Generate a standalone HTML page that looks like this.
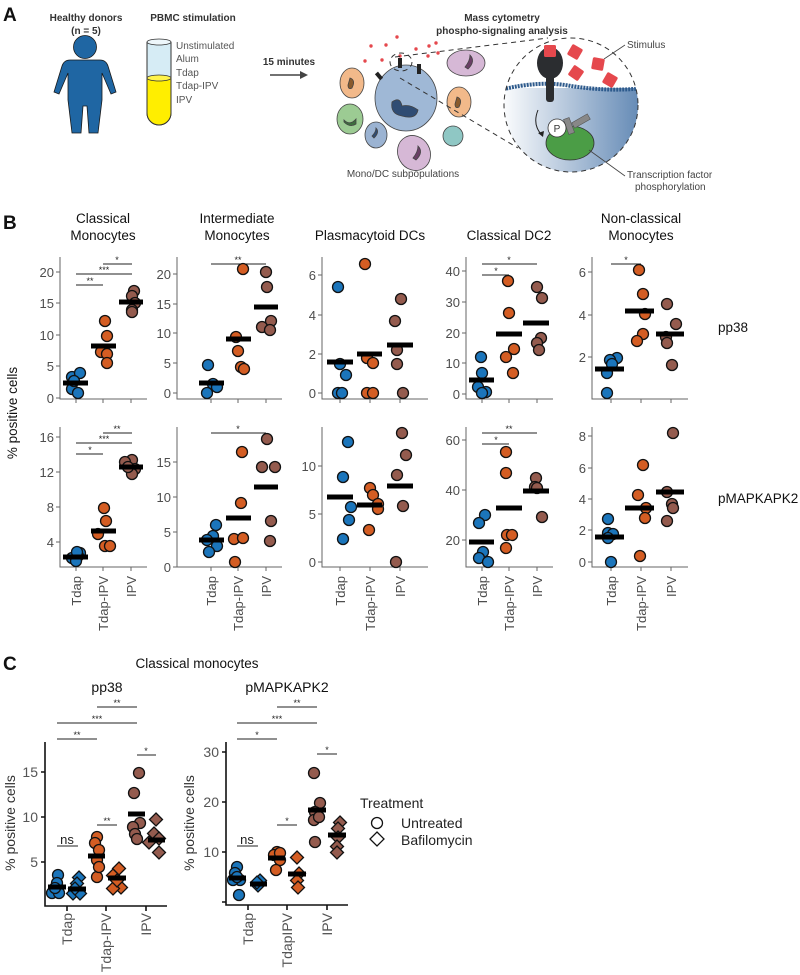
<!DOCTYPE html>
<html><head><meta charset="utf-8"><style>
html,body{margin:0;padding:0;background:#fff}
svg{display:block}
text{font-family:"Liberation Sans",sans-serif}
.t{font-size:13px;fill:#4d4d4d}
.h{font-size:13.5px;fill:#111}
.b{fill:#1b75bb;stroke:#111;stroke-width:1.3}
.o{fill:#d45d23;stroke:#111;stroke-width:1.3}
.r{fill:#945b4e;stroke:#111;stroke-width:1.3}
.ax{stroke:#666;stroke-width:1;fill:none}
.axc{stroke:#111;stroke-width:1.6;fill:none}
.sg{stroke:#222;stroke-width:1}
.st{font-size:9px;fill:#222}
</style></head><body>
<svg width="800" height="975" viewBox="0 0 800 975" xmlns="http://www.w3.org/2000/svg">
<defs>
<linearGradient id="gr" x1="0" x2="1" y1="0" y2="0"><stop offset="0" stop-color="#fff"/><stop offset="1" stop-color="#5f86b3"/></linearGradient>
<clipPath id="cc"><circle cx="571" cy="105" r="67"/></clipPath>
</defs>
<!-- Panel A -->
<text x="3" y="21" style="font-size:19px;font-weight:bold" fill="#111">A</text>
<text x="86" y="21" text-anchor="middle" style="font-size:10px;font-weight:bold" fill="#333">Healthy donors</text>
<text x="86" y="34" text-anchor="middle" style="font-size:10px;font-weight:bold" fill="#333">(n = 5)</text>
<text x="193" y="21" text-anchor="middle" style="font-size:10px;font-weight:bold" fill="#333">PBMC stimulation</text>
<g fill="#1f66a3" stroke="#1a1a1a" stroke-width="0.8">
<circle cx="85" cy="47" r="11.5"/>
<path d="M70 60 L100 60 Q106 60 108 66 L116 92 L111 94 L102 73 L102 100 L98 133 L89 133 L87 106 L83 106 L81 133 L72 133 L68 100 L68 73 L59 94 L54 92 L62 66 Q64 60 70 60 Z"/>
</g>
<path d="M147 42 L147 113 A12 12 0 0 0 171 113 L171 42" fill="#d6ecf5" stroke="#333" stroke-width="1"/>
<path d="M147 78 L147 113 A12 12 0 0 0 171 113 L171 78 Z" fill="#ffee00" stroke="#333" stroke-width="1"/>
<ellipse cx="159" cy="78" rx="12" ry="3" fill="#fff34a" stroke="#333" stroke-width="0.8"/>
<ellipse cx="159" cy="42" rx="12" ry="3" fill="#eef7fb" stroke="#333" stroke-width="0.8"/>
<g style="font-size:10px" fill="#555">
<text x="176" y="49">Unstimulated</text><text x="176" y="62">Alum</text><text x="176" y="76">Tdap</text><text x="176" y="89">Tdap-IPV</text><text x="176" y="103">IPV</text>
</g>
<text x="289" y="65" text-anchor="middle" style="font-size:10px;font-weight:bold" fill="#333">15 minutes</text>
<line x1="270" y1="75" x2="302" y2="75" stroke="#444" stroke-width="1.5"/>
<path d="M300 71 L308 75 L300 79 Z" fill="#444"/>
<text x="502" y="21" text-anchor="middle" style="font-size:10px;font-weight:bold" fill="#333">Mass cytometry</text>
<text x="502" y="34" text-anchor="middle" style="font-size:10px;font-weight:bold" fill="#333">phospho-signaling analysis</text>
<!-- cells -->
<g stroke="#444" stroke-width="0.8">
<ellipse cx="352" cy="83" rx="12" ry="15" fill="#f2b98a"/><path d="M350 78 q6 2 2 10 q-4 2 -4 -3z" fill="#8a5a2c"/>
<ellipse cx="459" cy="102" rx="12" ry="15" fill="#f2b98a"/><path d="M457 97 q6 2 2 10 q-4 2 -4 -3z" fill="#8a5a2c"/>
<ellipse cx="350" cy="119" rx="13" ry="15" fill="#9ccb93"/><path d="M344 120 q6 6 12 -1 l0 5 q-6 4 -12 -2z" fill="#3d6d3e"/>
<ellipse cx="376" cy="135" rx="11" ry="13" fill="#9bb3d2"/><path d="M376 128 q4 4 -2 10 l-2 -2 q4 -4 4 -8z" fill="#2f4c73"/>
<ellipse cx="466" cy="63" rx="19" ry="13" fill="#d6b8d6"/><path d="M470 55 q6 6 -2 14 l-3 -2 q5 -6 5 -12z" fill="#6a3f66"/>
<ellipse cx="414" cy="153" rx="16" ry="18" fill="#d6b8d6" transform="rotate(-30 414 153)"/><path d="M418 146 q6 6 -2 14 l-3 -2 q5 -6 5 -12z" fill="#6a3f66"/>
<circle cx="453" cy="136" r="10" fill="#8fc7c4"/>
<ellipse cx="406" cy="98" rx="31" ry="33" fill="#9fb8d6"/>
<path d="M392 102 q8 -6 10 4 q8 -2 16 4 q-2 10 -16 6 q-12 -2 -10 -14z" fill="#2f4c73"/>
</g>
<g fill="#e5484d"><circle cx="371" cy="46" r="1.7"/><circle cx="386" cy="45" r="1.7"/><circle cx="397" cy="37" r="1.7"/><circle cx="365" cy="61" r="1.7"/><circle cx="382" cy="60" r="1.7"/><circle cx="416" cy="49" r="1.7"/><circle cx="429" cy="46" r="1.7"/><circle cx="436" cy="43" r="1.7"/><circle cx="428" cy="56" r="1.7"/><circle cx="438" cy="53" r="1.7"/><circle cx="400" cy="56" r="1.7"/></g>
<g fill="#222"><rect x="398" y="58" width="4" height="10"/><rect x="417" y="64" width="4" height="10"/><rect x="377" y="72" width="4" height="8" transform="rotate(-40 379 76)"/></g>
<g stroke="#333" stroke-width="1" stroke-dasharray="5,4" fill="none">
<line x1="395" y1="57" x2="548" y2="38"/><line x1="400" y1="78" x2="518" y2="148"/>
<ellipse cx="401" cy="62" rx="11" ry="9"/>
</g>
<!-- zoom circle -->
<g clip-path="url(#cc)">
<rect x="500" y="88" width="145" height="90" fill="url(#gr)"/>
<path d="M500 90 Q540 80 571 86 Q610 92 645 88" stroke="#2d5a8c" stroke-width="4" fill="none" stroke-dasharray="2,1"/>
</g>
<circle cx="571" cy="105" r="67" fill="none" stroke="#333" stroke-width="1" stroke-dasharray="5,4"/>
<ellipse cx="550" cy="63" rx="13" ry="16" fill="#2b2d30"/>
<rect x="546" y="70" width="8" height="32" rx="3" fill="#2b2d30"/>
<g fill="#e5484d">
<rect x="544" y="45" width="12" height="12" rx="1.5"/>
<rect x="569" y="46" width="12" height="12" rx="1.5" transform="rotate(30 575 52)"/>
<rect x="592" y="58" width="12" height="12" rx="1.5" transform="rotate(10 598 64)"/>
<rect x="570" y="67" width="12" height="12" rx="1.5" transform="rotate(35 576 73)"/>
<rect x="604" y="74" width="12" height="12" rx="1.5" transform="rotate(30 610 80)"/>
</g>
<path d="M538 110 Q532 125 542 135" stroke="#222" fill="none" stroke-width="1"/><path d="M538 133 L543 137 L544 131Z" fill="#222"/>
<ellipse cx="570" cy="143" rx="24" ry="17" fill="#4b9d46" stroke="#333" stroke-width="0.8"/>
<g fill="#888" stroke="#555" stroke-width="0.6"><rect x="566" y="118" width="6" height="16" transform="rotate(-20 569 126)"/><rect x="572" y="118" width="18" height="6" transform="rotate(-30 581 121)"/></g>
<circle cx="557" cy="128" r="9" fill="#fff" stroke="#333" stroke-width="0.8"/>
<text x="557" y="132" text-anchor="middle" style="font-size:10px" fill="#333">P</text>
<line x1="604" y1="59" x2="625" y2="45" stroke="#444" stroke-width="0.8"/>
<line x1="589" y1="150" x2="625" y2="176" stroke="#444" stroke-width="0.8"/>
<g style="font-size:10px" fill="#444">
<text x="627" y="48">Stimulus</text>
<text x="627" y="178">Transcription factor</text>
<text x="635" y="190">phosphorylation</text>
<text x="403" y="177" text-anchor="middle">Mono/DC subpopulations</text>
</g>

<!-- Panel B -->
<text x="3" y="229" style="font-size:19px;font-weight:bold" fill="#111">B</text>
<g class="h" text-anchor="middle">
<text x="103" y="223">Classical</text><text x="103" y="240">Monocytes</text>
<text x="237" y="223">Intermediate</text><text x="237" y="240">Monocytes</text>
<text x="370" y="240">Plasmacytoid DCs</text>
<text x="509" y="240">Classical DC2</text>
<text x="641" y="223">Non-classical</text><text x="641" y="240">Monocytes</text>
</g>
<text class="h" x="718" y="332">pp38</text>
<text class="h" x="718" y="503">pMAPKAPK2</text>
<text class="h" transform="translate(17 413) rotate(-90)" text-anchor="middle">% positive cells</text>

<!-- axes row1 -->
<g class="ax">
<path d="M60 257 V399 H147"/><path d="M177 257 V399 H282"/><path d="M322 257 V399 H428"/><path d="M466 257 V399 H553"/><path d="M592 257 V399 H688"/>
<path d="M60 427 V567 H147"/><path d="M177 427 V567 H282"/><path d="M322 427 V567 H428"/><path d="M466 427 V567 H553"/><path d="M592 427 V567 H688"/>
<path d="M76 399v4M103 399v4M131 399v4M211 399v4M238 399v4M266 399v4M340 399v4M370 399v4M400 399v4M482 399v4M509 399v4M537 399v4M611 399v4M641 399v4M671 399v4"/>
<path d="M76 567v4M103 567v4M131 567v4M211 567v4M238 567v4M266 567v4M340 567v4M370 567v4M400 567v4M482 567v4M509 567v4M537 567v4M611 567v4M641 567v4M671 567v4"/>
<path d="M56 272h4M56 303h4M56 335h4M56 366h4M56 398h4"/>
<path d="M173 274h4M173 304h4M173 333h4M173 363h4M173 393h4"/>
<path d="M318 275h4M318 315h4M318 354h4M318 393h4"/>
<path d="M462 271h4M462 302h4M462 333h4M462 363h4M462 394h4"/>
<path d="M588 272h4M588 315h4M588 357h4"/>
<path d="M56 437h4M56 472h4M56 507h4M56 542h4"/>
<path d="M173 462h4M173 497h4M173 532h4M173 567h4"/>
<path d="M318 466h4M318 514h4M318 562h4"/>
<path d="M462 440h4M462 490h4M462 540h4"/>
<path d="M588 436h4M588 468h4M588 499h4M588 530h4M588 562h4"/>
</g>
<g class="t" text-anchor="end">
<text x="54" y="277">20</text><text x="54" y="308">15</text><text x="54" y="340">10</text><text x="54" y="371">5</text><text x="54" y="403">0</text>
<text x="171" y="279">20</text><text x="171" y="309">15</text><text x="171" y="338">10</text><text x="171" y="368">5</text><text x="171" y="398">0</text>
<text x="316" y="280">6</text><text x="316" y="320">4</text><text x="316" y="359">2</text><text x="316" y="398">0</text>
<text x="460" y="276">40</text><text x="460" y="307">30</text><text x="460" y="338">20</text><text x="460" y="368">10</text><text x="460" y="399">0</text>
<text x="586" y="277">6</text><text x="586" y="320">4</text><text x="586" y="362">2</text>
<text x="54" y="442">16</text><text x="54" y="477">12</text><text x="54" y="512">8</text><text x="54" y="547">4</text>
<text x="171" y="467">15</text><text x="171" y="502">10</text><text x="171" y="537">5</text><text x="171" y="572">0</text>
<text x="316" y="471">10</text><text x="316" y="519">5</text><text x="316" y="567">0</text>
<text x="460" y="445">60</text><text x="460" y="495">40</text><text x="460" y="545">20</text>
<text x="586" y="441">8</text><text x="586" y="473">6</text><text x="586" y="504">4</text><text x="586" y="535">2</text><text x="586" y="567">0</text>
</g>
<!-- x labels -->
<g class="t" text-anchor="end">
<text transform="translate(81 576) rotate(-90)">Tdap</text><text transform="translate(108 576) rotate(-90)">Tdap-IPV</text><text transform="translate(136 576) rotate(-90)">IPV</text>
<text transform="translate(216 576) rotate(-90)">Tdap</text><text transform="translate(243 576) rotate(-90)">Tdap-IPV</text><text transform="translate(271 576) rotate(-90)">IPV</text>
<text transform="translate(345 576) rotate(-90)">Tdap</text><text transform="translate(375 576) rotate(-90)">Tdap-IPV</text><text transform="translate(405 576) rotate(-90)">IPV</text>
<text transform="translate(487 576) rotate(-90)">Tdap</text><text transform="translate(514 576) rotate(-90)">Tdap-IPV</text><text transform="translate(542 576) rotate(-90)">IPV</text>
<text transform="translate(616 576) rotate(-90)">Tdap</text><text transform="translate(646 576) rotate(-90)">Tdap-IPV</text><text transform="translate(676 576) rotate(-90)">IPV</text>
</g>
<!-- sig bars B -->
<g class="sg">
<line x1="103" y1="264" x2="132" y2="264"/><line x1="76" y1="274" x2="132" y2="274"/><line x1="76" y1="285" x2="103" y2="285"/>
<line x1="211" y1="264" x2="266" y2="264"/>
<line x1="482" y1="264" x2="537" y2="264"/><line x1="482" y1="275" x2="509" y2="275"/>
<line x1="611" y1="264" x2="641" y2="264"/>
<line x1="103" y1="433" x2="132" y2="433"/><line x1="76" y1="443" x2="132" y2="443"/><line x1="76" y1="454" x2="103" y2="454"/>
<line x1="211" y1="433" x2="266" y2="433"/>
<line x1="482" y1="433" x2="537" y2="433"/><line x1="482" y1="444" x2="509" y2="444"/>
</g>
<g class="st" text-anchor="middle">
<text x="117" y="263">*</text><text x="104" y="273">***</text><text x="90" y="284">**</text>
<text x="238" y="263">**</text>
<text x="509" y="263">*</text><text x="496" y="274">*</text>
<text x="626" y="263">*</text>
<text x="117" y="432">**</text><text x="104" y="442">***</text><text x="90" y="453">*</text>
<text x="238" y="432">*</text>
<text x="509" y="432">**</text><text x="496" y="443">*</text>
</g>
<!-- points row1 -->
<g>
<circle class="b" cx="72" cy="377" r="5.5"/><circle class="b" cx="80" cy="373" r="5.5"/><circle class="b" cx="72" cy="389" r="5.5"/><circle class="b" cx="78" cy="393" r="5.5"/><circle class="b" cx="74" cy="381" r="5.5"/>
<circle class="o" cx="105" cy="321" r="5.5"/><circle class="o" cx="107" cy="336" r="5.5"/><circle class="o" cx="101" cy="352" r="5.5"/><circle class="o" cx="107" cy="354" r="5.5"/><circle class="o" cx="107" cy="363" r="5.5"/>
<circle class="r" cx="134" cy="291" r="5.5"/><circle class="r" cx="132" cy="296" r="5.5"/><circle class="r" cx="135" cy="303" r="5.5"/><circle class="r" cx="132" cy="310" r="5.5"/><circle class="r" cx="132" cy="312" r="5.5"/>
<circle class="b" cx="208" cy="365" r="5.5"/><circle class="b" cx="213" cy="384" r="5.5"/><circle class="b" cx="207" cy="393" r="5.5"/><circle class="b" cx="217" cy="387" r="5.5"/>
<circle class="o" cx="243" cy="269" r="5.5"/><circle class="o" cx="236" cy="337" r="5.5"/><circle class="o" cx="238" cy="351" r="5.5"/><circle class="o" cx="241" cy="367" r="5.5"/><circle class="o" cx="244" cy="369" r="5.5"/>
<circle class="r" cx="266" cy="272" r="5.5"/><circle class="r" cx="267" cy="287" r="5.5"/><circle class="r" cx="271" cy="321" r="5.5"/><circle class="r" cx="262" cy="327" r="5.5"/><circle class="r" cx="270" cy="330" r="5.5"/>
<circle class="b" cx="338" cy="287" r="5.5"/><circle class="b" cx="340" cy="364" r="5.5"/><circle class="b" cx="346" cy="375" r="5.5"/><circle class="b" cx="338" cy="393" r="5.5"/><circle class="b" cx="342" cy="393" r="5.5"/>
<circle class="o" cx="365" cy="264" r="5.5"/><circle class="o" cx="367" cy="358" r="5.5"/><circle class="o" cx="373" cy="363" r="5.5"/><circle class="o" cx="367" cy="393" r="5.5"/><circle class="o" cx="373" cy="393" r="5.5"/>
<circle class="r" cx="401" cy="299" r="5.5"/><circle class="r" cx="395" cy="321" r="5.5"/><circle class="r" cx="397" cy="350" r="5.5"/><circle class="r" cx="397" cy="364" r="5.5"/><circle class="r" cx="403" cy="393" r="5.5"/>
<circle class="b" cx="481" cy="357" r="5.5"/><circle class="b" cx="482" cy="373" r="5.5"/><circle class="b" cx="478" cy="387" r="5.5"/><circle class="b" cx="486" cy="392" r="5.5"/><circle class="b" cx="482" cy="393" r="5.5"/>
<circle class="o" cx="508" cy="281" r="5.5"/><circle class="o" cx="509" cy="313" r="5.5"/><circle class="o" cx="514" cy="349" r="5.5"/><circle class="o" cx="506" cy="357" r="5.5"/><circle class="o" cx="513" cy="373" r="5.5"/>
<circle class="r" cx="537" cy="287" r="5.5"/><circle class="r" cx="542" cy="298" r="5.5"/><circle class="r" cx="541" cy="338" r="5.5"/><circle class="r" cx="537" cy="343" r="5.5"/><circle class="r" cx="539" cy="350" r="5.5"/>
<circle class="b" cx="617" cy="358" r="5.5"/><circle class="b" cx="610" cy="360" r="5.5"/><circle class="b" cx="612" cy="364" r="5.5"/><circle class="b" cx="607" cy="373" r="5.5"/><circle class="b" cx="607" cy="393" r="5.5"/>
<circle class="o" cx="639" cy="270" r="5.5"/><circle class="o" cx="643" cy="294" r="5.5"/><circle class="o" cx="645" cy="314" r="5.5"/><circle class="o" cx="643" cy="334" r="5.5"/><circle class="o" cx="637" cy="341" r="5.5"/>
<circle class="r" cx="667" cy="304" r="5.5"/><circle class="r" cx="676" cy="324" r="5.5"/><circle class="r" cx="666" cy="337" r="5.5"/><circle class="r" cx="667" cy="343" r="5.5"/><circle class="r" cx="672" cy="365" r="5.5"/>
</g>
<!-- points row2 -->
<g>
<circle class="b" cx="72" cy="558" r="5.5"/><circle class="b" cx="80" cy="553" r="5.5"/><circle class="b" cx="78" cy="556" r="5.5"/><circle class="b" cx="76" cy="561" r="5.5"/><circle class="b" cx="77" cy="552" r="5.5"/>
<circle class="o" cx="104" cy="508" r="5.5"/><circle class="o" cx="106" cy="521" r="5.5"/><circle class="o" cx="98" cy="534" r="5.5"/><circle class="o" cx="105" cy="546" r="5.5"/><circle class="o" cx="110" cy="546" r="5.5"/>
<circle class="r" cx="132" cy="460" r="5.5"/><circle class="r" cx="125" cy="462" r="5.5"/><circle class="r" cx="135" cy="469" r="5.5"/><circle class="r" cx="132" cy="474" r="5.5"/><circle class="r" cx="128" cy="467" r="5.5"/>
<circle class="b" cx="216" cy="525" r="5.5"/><circle class="b" cx="213" cy="536" r="5.5"/><circle class="b" cx="207" cy="540" r="5.5"/><circle class="b" cx="217" cy="546" r="5.5"/><circle class="b" cx="209" cy="552" r="5.5"/>
<circle class="o" cx="242" cy="452" r="5.5"/><circle class="o" cx="241" cy="503" r="5.5"/><circle class="o" cx="234" cy="539" r="5.5"/><circle class="o" cx="243" cy="538" r="5.5"/><circle class="o" cx="235" cy="562" r="5.5"/>
<circle class="r" cx="267" cy="439" r="5.5"/><circle class="r" cx="262" cy="467" r="5.5"/><circle class="r" cx="275" cy="467" r="5.5"/><circle class="r" cx="271" cy="521" r="5.5"/><circle class="r" cx="270" cy="541" r="5.5"/>
<circle class="b" cx="348" cy="442" r="5.5"/><circle class="b" cx="343" cy="477" r="5.5"/><circle class="b" cx="351" cy="507" r="5.5"/><circle class="b" cx="349" cy="520" r="5.5"/><circle class="b" cx="343" cy="539" r="5.5"/>
<circle class="o" cx="370" cy="488" r="5.5"/><circle class="o" cx="373" cy="495" r="5.5"/><circle class="o" cx="378" cy="504" r="5.5"/><circle class="o" cx="378" cy="509" r="5.5"/><circle class="o" cx="369" cy="530" r="5.5"/>
<circle class="r" cx="402" cy="433" r="5.5"/><circle class="r" cx="406" cy="455" r="5.5"/><circle class="r" cx="397" cy="475" r="5.5"/><circle class="r" cx="403" cy="506" r="5.5"/><circle class="r" cx="396" cy="562" r="5.5"/>
<circle class="b" cx="485" cy="515" r="5.5"/><circle class="b" cx="479" cy="523" r="5.5"/><circle class="b" cx="483" cy="552" r="5.5"/><circle class="b" cx="479" cy="558" r="5.5"/><circle class="b" cx="488" cy="562" r="5.5"/>
<circle class="o" cx="506" cy="452" r="5.5"/><circle class="o" cx="506" cy="473" r="5.5"/><circle class="o" cx="507" cy="535" r="5.5"/><circle class="o" cx="512" cy="535" r="5.5"/><circle class="o" cx="506" cy="548" r="5.5"/>
<circle class="r" cx="536" cy="478" r="5.5"/><circle class="r" cx="535" cy="487" r="5.5"/><circle class="r" cx="537" cy="488" r="5.5"/><circle class="r" cx="542" cy="517" r="5.5"/>
<circle class="b" cx="608" cy="519" r="5.5"/><circle class="b" cx="608" cy="533" r="5.5"/><circle class="b" cx="613" cy="534" r="5.5"/><circle class="b" cx="608" cy="538" r="5.5"/><circle class="b" cx="611" cy="562" r="5.5"/>
<circle class="o" cx="643" cy="465" r="5.5"/><circle class="o" cx="638" cy="495" r="5.5"/><circle class="o" cx="646" cy="508" r="5.5"/><circle class="o" cx="645" cy="518" r="5.5"/><circle class="o" cx="640" cy="556" r="5.5"/>
<circle class="r" cx="673" cy="433" r="5.5"/><circle class="r" cx="667" cy="492" r="5.5"/><circle class="r" cx="672" cy="504" r="5.5"/><circle class="r" cx="673" cy="508" r="5.5"/><circle class="r" cx="667" cy="521" r="5.5"/>
</g>
<!-- median bars B -->
<g fill="#000">
<rect x="63" y="380.5" width="25" height="5"/><rect x="91" y="343.5" width="25" height="5"/><rect x="119" y="299.5" width="24" height="5"/>
<rect x="199" y="380.5" width="25" height="5"/><rect x="226" y="336.5" width="25" height="5"/><rect x="254" y="304.5" width="24" height="5"/>
<rect x="327" y="359.5" width="26" height="5"/><rect x="357" y="351.5" width="25" height="5"/><rect x="387" y="342.5" width="26" height="5"/>
<rect x="469" y="377.5" width="25" height="5"/><rect x="496" y="331.5" width="26" height="5"/><rect x="523" y="320.5" width="26" height="5"/>
<rect x="595" y="366.5" width="29" height="5"/><rect x="625" y="308.5" width="29" height="5"/><rect x="656" y="331.5" width="28" height="5"/>
<rect x="63" y="554.5" width="25" height="5"/><rect x="91" y="528.5" width="25" height="5"/><rect x="119" y="464.5" width="24" height="5"/>
<rect x="199" y="537.5" width="25" height="5"/><rect x="226" y="515.5" width="25" height="5"/><rect x="254" y="484.5" width="24" height="5"/>
<rect x="327" y="494.5" width="26" height="5"/><rect x="357" y="502.5" width="25" height="5"/><rect x="387" y="483.5" width="26" height="5"/>
<rect x="469" y="539.5" width="25" height="5"/><rect x="496" y="505.5" width="26" height="5"/><rect x="523" y="488.5" width="26" height="5"/>
<rect x="595" y="534.5" width="29" height="5"/><rect x="625" y="505.5" width="29" height="5"/><rect x="656" y="489.5" width="28" height="5"/>
</g>

<!-- Panel C -->
<text x="3" y="670" style="font-size:19px;font-weight:bold" fill="#111">C</text>
<text class="h" x="197" y="668" text-anchor="middle">Classical monocytes</text>
<text x="107" y="692" text-anchor="middle" style="font-size:14px" fill="#111">pp38</text>
<text x="287" y="692" text-anchor="middle" style="font-size:14px" fill="#111">pMAPKAPK2</text>
<text transform="translate(15 823) rotate(-90)" text-anchor="middle" style="font-size:14px" fill="#333">% positive cells</text>
<text transform="translate(194 823) rotate(-90)" text-anchor="middle" style="font-size:14px" fill="#333">% positive cells</text>
<g class="axc">
<path d="M45 742 V906 H167"/><path d="M226 742 V905 H348"/>
<path d="M67 906v5M106 906v5M146 906v5M248 905v5M287 905v5M327 905v5"/>
<path d="M41 772h4M41 817h4M41 862h4M222 752h4M222 802h4M222 852h4M222 902h4"/>
</g>
<g style="font-size:14px" fill="#555" text-anchor="end">
<text x="38" y="777">15</text><text x="38" y="822">10</text><text x="38" y="867">5</text>
<text x="219" y="757">30</text><text x="219" y="807">20</text><text x="219" y="857">10</text>
<text transform="translate(72 913) rotate(-90)">Tdap</text><text transform="translate(111 913) rotate(-90)">Tdap-IPV</text><text transform="translate(151 913) rotate(-90)">IPV</text>
<text transform="translate(253 913) rotate(-90)">Tdap</text><text transform="translate(292 913) rotate(-90)">TdapIPV</text><text transform="translate(332 913) rotate(-90)">IPV</text>
</g>
<g class="sg">
<line x1="97" y1="707" x2="137" y2="707"/><line x1="57" y1="723" x2="137" y2="723"/><line x1="57" y1="739" x2="97" y2="739"/>
<line x1="137" y1="755" x2="156" y2="755"/><line x1="97" y1="825" x2="117" y2="825"/><line x1="57" y1="846" x2="78" y2="846"/>
<line x1="277" y1="707" x2="317" y2="707"/><line x1="237" y1="723" x2="317" y2="723"/><line x1="237" y1="739" x2="277" y2="739"/>
<line x1="317" y1="754" x2="337" y2="754"/><line x1="277" y1="825" x2="297" y2="825"/><line x1="237" y1="846" x2="258" y2="846"/>
</g>
<g class="st" text-anchor="middle">
<text x="117" y="706">**</text><text x="97" y="722">***</text><text x="77" y="738">**</text><text x="146" y="754">*</text><text x="107" y="824">**</text>
<text x="297" y="706">**</text><text x="277" y="722">***</text><text x="257" y="738">*</text><text x="327" y="753">*</text><text x="287" y="824">*</text>
</g>
<g style="font-size:13px" fill="#222" text-anchor="middle"><text x="67" y="844">ns</text><text x="247" y="844">ns</text></g>
<!-- C points -->
<g>
<circle class="b" cx="58" cy="875" r="5.5"/><circle class="b" cx="57" cy="883" r="5.5"/><circle class="b" cx="52" cy="893" r="5.5"/><circle class="b" cx="59" cy="893" r="5.5"/><circle class="b" cx="55" cy="888" r="5.5"/>
<circle class="o" cx="97" cy="837" r="5.5"/><circle class="o" cx="95" cy="843" r="5.5"/><circle class="o" cx="99" cy="850" r="5.5"/><circle class="o" cx="97" cy="860" r="5.5"/><circle class="o" cx="97" cy="877" r="5.5"/><circle class="o" cx="99" cy="867" r="5.5"/>
<circle class="r" cx="139" cy="773" r="5.5"/><circle class="r" cx="134" cy="793" r="5.5"/><circle class="r" cx="140" cy="823" r="5.5"/><circle class="r" cx="133" cy="827" r="5.5"/><circle class="r" cx="135" cy="834" r="5.5"/><circle class="r" cx="137" cy="839" r="5.5"/>
<circle class="b" cx="237" cy="867" r="5.5"/><circle class="b" cx="235" cy="873" r="5.5"/><circle class="b" cx="240" cy="880" r="5.5"/><circle class="b" cx="233" cy="880" r="5.5"/><circle class="b" cx="239" cy="895" r="5.5"/><circle class="b" cx="237" cy="877" r="5.5"/>
<circle class="o" cx="277" cy="852" r="5.5"/><circle class="o" cx="274" cy="855" r="5.5"/><circle class="o" cx="280" cy="860" r="5.5"/><circle class="o" cx="276" cy="870" r="5.5"/><circle class="o" cx="280" cy="853" r="5.5"/>
<circle class="r" cx="314" cy="773" r="5.5"/><circle class="r" cx="320" cy="803" r="5.5"/><circle class="r" cx="315" cy="812" r="5.5"/><circle class="r" cx="314" cy="820" r="5.5"/><circle class="r" cx="319" cy="817" r="5.5"/><circle class="r" cx="315" cy="842" r="5.5"/>
</g>
<g>
<path class="b" d="M79 871l6.5 6.5l-6.5 6.5l-6.5 -6.5z"/><path class="b" d="M77 877l6.5 6.5l-6.5 6.5l-6.5 -6.5z"/><path class="b" d="M73 887l6.5 6.5l-6.5 6.5l-6.5 -6.5z"/><path class="b" d="M80 887l6.5 6.5l-6.5 6.5l-6.5 -6.5z"/><path class="b" d="M75 882l6.5 6.5l-6.5 6.5l-6.5 -6.5z"/>
<path class="o" d="M119 862l6.5 6.5l-6.5 6.5l-6.5 -6.5z"/><path class="o" d="M113 869l6.5 6.5l-6.5 6.5l-6.5 -6.5z"/><path class="o" d="M121 881l6.5 6.5l-6.5 6.5l-6.5 -6.5z"/><path class="o" d="M113 882l6.5 6.5l-6.5 6.5l-6.5 -6.5z"/><path class="o" d="M117 874l6.5 6.5l-6.5 6.5l-6.5 -6.5z"/>
<path class="r" d="M156 813l6.5 6.5l-6.5 6.5l-6.5 -6.5z"/><path class="r" d="M154 827l6.5 6.5l-6.5 6.5l-6.5 -6.5z"/><path class="r" d="M159 832l6.5 6.5l-6.5 6.5l-6.5 -6.5z"/><path class="r" d="M149 836l6.5 6.5l-6.5 6.5l-6.5 -6.5z"/><path class="r" d="M159 846l6.5 6.5l-6.5 6.5l-6.5 -6.5z"/>
<path class="b" d="M260 874l6.5 6.5l-6.5 6.5l-6.5 -6.5z"/><path class="b" d="M258 879l6.5 6.5l-6.5 6.5l-6.5 -6.5z"/><path class="b" d="M257 876l6.5 6.5l-6.5 6.5l-6.5 -6.5z"/>
<path class="o" d="M297 851l6.5 6.5l-6.5 6.5l-6.5 -6.5z"/><path class="o" d="M299 867l6.5 6.5l-6.5 6.5l-6.5 -6.5z"/><path class="o" d="M297 874l6.5 6.5l-6.5 6.5l-6.5 -6.5z"/><path class="o" d="M298 881l6.5 6.5l-6.5 6.5l-6.5 -6.5z"/>
<path class="r" d="M340 816l6.5 6.5l-6.5 6.5l-6.5 -6.5z"/><path class="r" d="M338 822l6.5 6.5l-6.5 6.5l-6.5 -6.5z"/><path class="r" d="M338 831l6.5 6.5l-6.5 6.5l-6.5 -6.5z"/><path class="r" d="M337 840l6.5 6.5l-6.5 6.5l-6.5 -6.5z"/><path class="r" d="M337 846l6.5 6.5l-6.5 6.5l-6.5 -6.5z"/>
</g>
<g fill="#000">
<rect x="48" y="884.5" width="18" height="5"/><rect x="68" y="886.5" width="18" height="5"/><rect x="88" y="853.5" width="17" height="5"/><rect x="108" y="875.5" width="18" height="5"/><rect x="128" y="811.5" width="17" height="5"/><rect x="148" y="837.5" width="17" height="5"/>
<rect x="229" y="875.5" width="17" height="5"/><rect x="250" y="881.5" width="17" height="5"/><rect x="268" y="855.5" width="17" height="5"/><rect x="288" y="871.5" width="18" height="5"/><rect x="308" y="807.5" width="18" height="5"/><rect x="328" y="832.5" width="18" height="5"/>
</g>
<text x="360" y="808" style="font-size:14px" fill="#222">Treatment</text>
<circle cx="377" cy="823" r="5.5" fill="none" stroke="#111" stroke-width="1.3"/>
<path d="M377 832l7 7l-7 7l-7 -7z" fill="none" stroke="#111" stroke-width="1.3"/>
<text x="401" y="828" style="font-size:14px" fill="#222">Untreated</text>
<text x="401" y="845" style="font-size:14px" fill="#222">Bafilomycin</text>
</svg>
</body></html>
